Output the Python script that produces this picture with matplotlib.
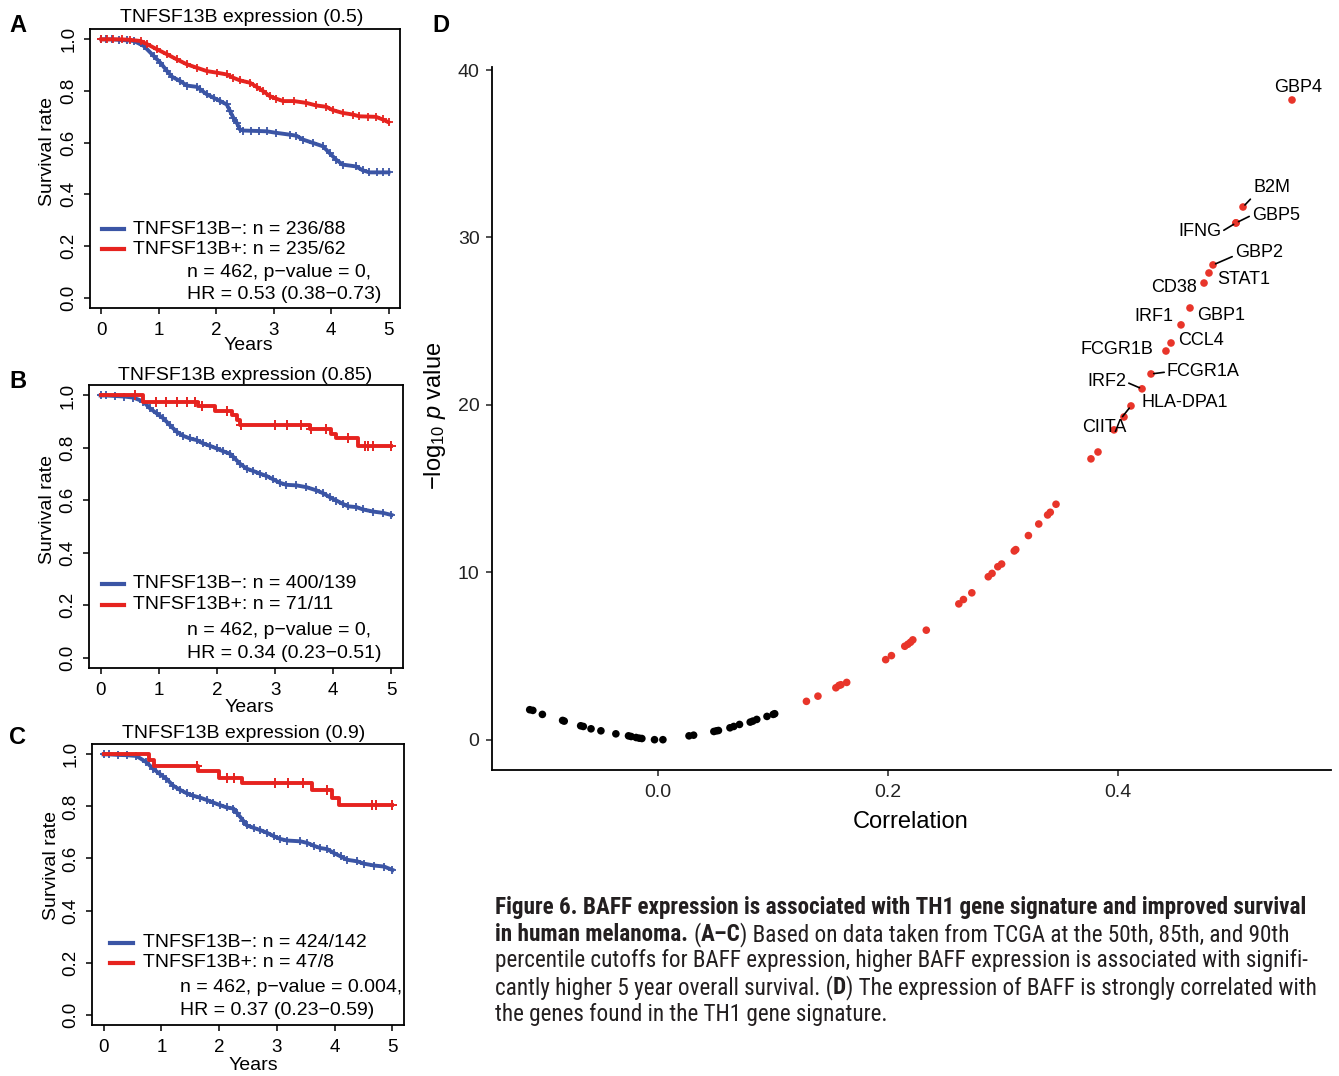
import numpy as np
import matplotlib
matplotlib.use("Agg")
import matplotlib.pyplot as plt
from matplotlib import font_manager
from matplotlib.font_manager import FontProperties
from matplotlib.transforms import IdentityTransform

# ---------------- data: Kaplan-Meier panels ----------------
km_titles = ["TNFSF13B expression (0.5)", "TNFSF13B expression (0.85)", "TNFSF13B expression (0.9)"]
km_leg_neg = ["TNFSF13B\u2212: n = 236/88", "TNFSF13B\u2212: n = 400/139", "TNFSF13B\u2212: n = 424/142"]
km_leg_pos = ["TNFSF13B+: n = 235/62", "TNFSF13B+: n = 71/11", "TNFSF13B+: n = 47/8"]
km_stats1 = ["n = 462, p\u2212value = 0,", "n = 462, p\u2212value = 0,", "n = 462, p\u2212value = 0.004,"]
km_stats2 = ["HR = 0.53 (0.38\u22120.73)", "HR = 0.34 (0.23\u22120.51)", "HR = 0.37 (0.23\u22120.59)"]
x_ticks = [0, 1, 2, 3, 4, 5]
y_ticks = [0.0, 0.2, 0.4, 0.6, 0.8, 1.0]
y_ticklabels = ["0.0", "0.2", "0.4", "0.6", "0.8", "1.0"]

a_neg_t = [0, 0.08, 0.18, 0.3, 0.45, 0.566, 0.739, 0.912, 1.028, 1.143, 1.23, 1.374, 1.49, 1.663, 1.721,
           1.836, 1.952, 2.067, 2.182, 2.24, 2.298, 2.356, 2.413, 2.471, 2.6, 2.75, 2.875, 3.048, 3.279,
           3.395, 3.51, 3.684, 3.857, 3.972, 4.088, 4.203, 4.434, 4.55, 4.665, 4.8, 4.9, 5.0]
a_neg_s = [1, 1, 1, 0.998, 0.996, 0.9935, 0.974, 0.935, 0.909, 0.877, 0.855, 0.838, 0.821, 0.816, 0.806,
           0.787, 0.774, 0.761, 0.748, 0.722, 0.696, 0.677, 0.651, 0.647, 0.646, 0.645, 0.644, 0.638, 0.631,
           0.627, 0.612, 0.599, 0.586, 0.560, 0.534, 0.515, 0.508, 0.493, 0.485, 0.485, 0.485, 0.485]
a_pos_t = [0, 0.1, 0.2, 0.35, 0.5, 0.681, 0.797, 0.97, 1.143, 1.316, 1.49, 1.663, 1.836, 2.009, 2.182,
           2.298, 2.413, 2.587, 2.702, 2.818, 2.933, 3.048, 3.164, 3.35, 3.568, 3.741, 3.915, 4.03, 4.203,
           4.376, 4.492, 4.65, 4.781, 4.896, 5.0]
a_pos_s = [1, 1, 1, 1, 0.998, 0.9935, 0.981, 0.961, 0.942, 0.922, 0.903, 0.89, 0.877, 0.871, 0.864,
           0.851, 0.841, 0.832, 0.816, 0.799, 0.78, 0.77, 0.761, 0.761, 0.754, 0.744, 0.739, 0.726, 0.715,
           0.709, 0.702, 0.701, 0.70, 0.69, 0.679]

b_neg_t = [0, 0.1, 0.25, 0.4, 0.561, 0.733, 0.848, 0.962, 1.077, 1.191, 1.306, 1.42, 1.535, 1.649, 1.764,
           1.879, 1.993, 2.108, 2.222, 2.28, 2.394, 2.509, 2.623, 2.738, 2.852, 2.967, 3.081, 3.196, 3.368,
           3.54, 3.711, 3.826, 3.94, 4.055, 4.17, 4.255, 4.399, 4.513, 4.685, 4.857, 5.0]
b_neg_s = [1, 1, 0.998, 0.996, 0.992, 0.977, 0.951, 0.932, 0.913, 0.887, 0.862, 0.846, 0.836, 0.83, 0.817,
           0.808, 0.798, 0.787, 0.778, 0.766, 0.74, 0.721, 0.712, 0.702, 0.693, 0.68, 0.667, 0.659, 0.657,
           0.65, 0.638, 0.627, 0.612, 0.599, 0.586, 0.577, 0.574, 0.565, 0.557, 0.552, 0.544]
b_pos_t = [0, 0.733, 1.678, 1.964, 2.251, 2.348, 2.394, 3.597, 3.969, 4.055, 4.427, 5.0]
b_pos_s = [1.0, 0.974, 0.958, 0.941, 0.926, 0.906, 0.887, 0.871, 0.852, 0.836, 0.807, 0.807]
b_pos_cens = [0.59, 0.96, 1.13, 1.31, 1.48, 1.62, 1.74, 2.17, 2.42, 3.0, 3.2, 3.45, 3.62, 3.88, 4.26,
              4.54, 4.6, 4.69, 5.0]

c_neg_t = [0, 0.1, 0.25, 0.4, 0.568, 0.742, 0.857, 0.973, 1.089, 1.205, 1.321, 1.437, 1.553, 1.669, 1.784,
           1.9, 2.016, 2.132, 2.248, 2.306, 2.422, 2.48, 2.596, 2.711, 2.827, 2.943, 3.059, 3.175, 3.407,
           3.523, 3.638, 3.754, 3.87, 3.986, 4.102, 4.218, 4.392, 4.508, 4.681, 4.855, 5.0]
c_neg_s = [1, 1, 0.998, 0.997, 0.994, 0.97, 0.945, 0.925, 0.906, 0.88, 0.864, 0.851, 0.841, 0.834, 0.825,
           0.815, 0.805, 0.796, 0.792, 0.776, 0.744, 0.727, 0.718, 0.709, 0.699, 0.686, 0.675, 0.669, 0.666,
           0.66, 0.649, 0.64, 0.636, 0.621, 0.608, 0.595, 0.589, 0.58, 0.573, 0.569, 0.556]
c_pos_t = [0, 0.79, 0.875, 1.64, 1.99, 2.39, 3.61, 3.96, 4.07, 5.0]
c_pos_s = [1.0, 0.977, 0.957, 0.935, 0.908, 0.890, 0.864, 0.832, 0.806, 0.806]
c_pos_cens = [1.61, 2.13, 2.25, 2.97, 3.20, 3.46, 3.87, 4.65, 4.71, 5.0]

# ---------------- data: correlation panel ----------------
ns_corr = [-0.1115, -0.1088, -0.1005, -0.0829, -0.0815, -0.0672, -0.0649, -0.0582, -0.0496, -0.0366,
           -0.0256, -0.0233, -0.0190, -0.0163, -0.0140, -0.0030, 0.0043, 0.0270, 0.0310, 0.0486,
           0.0509, 0.0526, 0.0626, 0.0659, 0.0709, 0.0802, 0.0825, 0.0859, 0.0948, 0.1002, 0.1015]
ns_logp = [1.80, 1.76, 1.52, 1.16, 1.12, 0.84, 0.80, 0.66, 0.54, 0.36,
           0.24, 0.20, 0.14, 0.10, 0.08, 0.01, 0.01, 0.24, 0.28, 0.50,
           0.54, 0.56, 0.72, 0.80, 0.92, 1.06, 1.12, 1.22, 1.40, 1.52, 1.56]
sig_corr = [0.1291, 0.1391, 0.1547, 0.1574, 0.1591, 0.1641, 0.1980, 0.2030, 0.2146, 0.2173,
            0.2196, 0.2216, 0.2333, 0.2616, 0.2656, 0.2729, 0.2872, 0.2905, 0.2955, 0.2988,
            0.3098, 0.3111, 0.3221, 0.3311, 0.3388, 0.3411, 0.3461, 0.3765, 0.3826, 0.3965]
sig_logp = [2.30, 2.61, 3.11, 3.25, 3.29, 3.43, 4.79, 5.03, 5.59, 5.71,
            5.83, 5.97, 6.55, 8.12, 8.38, 8.78, 9.74, 9.94, 10.34, 10.50,
            11.28, 11.36, 12.20, 12.89, 13.43, 13.59, 14.07, 16.78, 17.19, 18.51]
genes = ["CIITA", "HLA-DPA1", "IRF2", "FCGR1A", "FCGR1B", "CCL4", "IRF1", "GBP1", "CD38", "STAT1",
         "GBP2", "IFNG", "GBP5", "B2M", "GBP4"]
gene_corr = [0.4113, 0.4052, 0.4209, 0.4287, 0.4417, 0.4461, 0.4548, 0.4626, 0.4748, 0.4791,
             0.4826, 0.5026, 0.5026, 0.5087, 0.5513]
gene_logp = [19.94, 19.28, 20.96, 21.85, 23.22, 23.70, 24.78, 25.79, 27.28, 27.88,
             28.36, 30.87, 30.87, 31.82, 38.21]
d_xticks = [0.0, 0.2, 0.4]
d_yticks = [0, 10, 20, 30, 40]

caption_lines = [
    [("Figure 6. BAFF expression is associated with TH1 gene signature and improved survival", True)],
    [("in human melanoma.", True), (" (", False), ("A\u2013C", True),
     (") Based on data taken from TCGA at the 50th, 85th, and 90th", False)],
    [("percentile cutoffs for BAFF expression, higher BAFF expression is associated with signifi-", False)],
    [("cantly higher 5 year overall survival. (", False), ("D", True),
     (") The expression of BAFF is strongly correlated with", False)],
    [("the genes found in the TH1 gene signature.", False)],
]

# ---------------- layout / style ----------------
W, H = 1339, 1076
plt.rcParams['font.family'] = ['Liberation Sans', 'DejaVu Sans']
plt.rcParams['mathtext.fontset'] = 'custom'
plt.rcParams['mathtext.rm'] = 'Liberation Sans'
plt.rcParams['mathtext.it'] = 'Liberation Sans:italic'

BLUE = '#3b55a5'
RED = '#e6231f'
DRED = '#e8352a'


def fx(px):
    return px / W


def fy(py):
    return 1 - py / H


def rect(l, t, r, b):
    return [l / W, 1 - b / H, (r - l) / W, (b - t) / H]


fig = plt.figure(figsize=(W / 100, H / 100), dpi=100)

km_layout = [
    dict(box=(90, 29, 400, 308), letter=(18, 25), title=(242, 17), years=(248, 345), ylab=(48, 151),
         lx=(0.039, 0.11), ly=(0.283, 0.211), tx=0.139, sx=0.313, sy=(0.129, 0.047)),
    dict(box=(89, 385, 403, 668), letter=(18, 381), title=(245, 375), years=(249, 708), ylab=(48, 510),
         lx=(0.041, 0.111), ly=(0.297, 0.223), tx=0.140, sx=0.312, sy=(0.134, 0.053)),
    dict(box=(92, 744, 404, 1025), letter=(18, 737), title=(244, 733), years=(253, 1065), ylab=(52, 866),
         lx=(0.058, 0.131), ly=(0.292, 0.221), tx=0.163, sx=0.282, sy=(0.135, 0.05)),
]
km_neg = [(a_neg_t, a_neg_s), (b_neg_t, b_neg_s), (c_neg_t, c_neg_s)]
km_pos = [(a_pos_t, a_pos_s, None), (b_pos_t, b_pos_s, b_pos_cens), (c_pos_t, c_pos_s, c_pos_cens)]
letters = ["A", "B", "C"]
KM_FS = 14

for i in range(3):
    L = km_layout[i]
    ax = fig.add_axes(rect(*L['box']))
    ax.set_xlim(-0.2, 5.2)
    ax.set_ylim(-0.04, 1.04)
    nt, ns = km_neg[i]
    ax.plot(nt, ns, color=BLUE, lw=2.8, marker='+', ms=6, mew=1.3)
    pt, ps, pc = km_pos[i]
    if pc is None:
        ax.plot(pt, ps, color=RED, lw=2.8, marker='+', ms=6, mew=1.3)
    else:
        ax.step(pt, ps, where='post', color=RED, lw=2.8)
        pt_arr = np.asarray(pt)
        ps_arr = np.asarray(ps)
        idx = np.searchsorted(pt_arr, np.asarray(pc), side='right') - 1
        ax.plot(pc, ps_arr[idx], linestyle='none', marker='+', ms=7, mew=1.4, color=RED)
    for sp in ax.spines.values():
        sp.set_linewidth(1.3)
    ax.set_xticks(x_ticks)
    ax.set_xticklabels([str(v) for v in x_ticks])
    ax.set_yticks(y_ticks)
    ax.set_yticklabels(y_ticklabels, rotation=90, va='center')
    ax.tick_params(direction='out', length=4, width=1.1, labelsize=13.5)
    ax.tick_params(axis='x', pad=6)
    ax.tick_params(axis='y', pad=5)
    # legend
    ax.plot(L['lx'], [L['ly'][0]] * 2, color=BLUE, lw=3, transform=ax.transAxes)
    ax.plot(L['lx'], [L['ly'][1]] * 2, color=RED, lw=3, transform=ax.transAxes)
    ax.text(L['tx'], L['ly'][0], km_leg_neg[i], transform=ax.transAxes, va='center', ha='left', fontsize=KM_FS)
    ax.text(L['tx'], L['ly'][1], km_leg_pos[i], transform=ax.transAxes, va='center', ha='left', fontsize=KM_FS)
    ax.text(L['sx'], L['sy'][0], km_stats1[i], transform=ax.transAxes, va='center', ha='left', fontsize=KM_FS)
    ax.text(L['sx'], L['sy'][1], km_stats2[i], transform=ax.transAxes, va='center', ha='left', fontsize=KM_FS)
    # titles / labels
    fig.text(fx(L['title'][0]), fy(L['title'][1]), km_titles[i], ha='center', va='center', fontsize=KM_FS)
    fig.text(fx(L['years'][0]), fy(L['years'][1]), "Years", ha='center', va='center', fontsize=KM_FS)
    fig.text(fx(L['ylab'][0]), fy(L['ylab'][1]), "Survival rate", ha='center', va='center',
             rotation=90, fontsize=KM_FS)
    fig.text(fx(L['letter'][0]), fy(L['letter'][1]), letters[i], ha='center', va='center',
             fontsize=17, fontweight='bold')

# ---------------- panel D ----------------
axd = fig.add_axes(rect(492, 67, 1331, 770))
axd.set_xlim(-0.1443, 0.5852)
axd.set_ylim(-1.8, 40.18)
axd.scatter(ns_corr, ns_logp, s=30, color='black', edgecolors='none', zorder=3)
axd.scatter(sig_corr, sig_logp, s=30, color=DRED, edgecolors='none', zorder=3)
axd.scatter(gene_corr, gene_logp, s=30, color=DRED, edgecolors='none', zorder=3)
for side in ['top', 'right']:
    axd.spines[side].set_visible(False)
for side in ['left', 'bottom']:
    axd.spines[side].set_linewidth(1.3)
axd.set_xticks(d_xticks)
axd.set_xticklabels(["%.1f" % v for v in d_xticks])
axd.set_yticks(d_yticks)
axd.set_yticklabels([str(v) for v in d_yticks])
axd.tick_params(direction='out', length=4, width=1.1, labelsize=14, colors='#222222')
axd.tick_params(axis='x', pad=6)
axd.tick_params(axis='y', pad=5)

label_layout = {
    "GBP4": (0.5565, 38.93, 'center', None),
    "B2M": (0.5174, 32.96, 'left', (0.0, 0.0)),
    "GBP5": (0.5165, 31.34, 'left', (0.0, 0.5)),
    "IFNG": (0.4896, 30.33, 'right', (1.0, 0.5)),
    "GBP2": (0.5017, 29.13, 'left', (0.0, 0.3)),
    "STAT1": (0.4861, 27.52, 'left', None),
    "CD38": (0.4687, 26.99, 'right', None),
    "IRF1": (0.4478, 25.31, 'right', None),
    "GBP1": (0.4687, 25.37, 'left', None),
    "CCL4": (0.4522, 23.82, 'left', None),
    "FCGR1B": (0.4304, 23.34, 'right', None),
    "FCGR1A": (0.4426, 21.97, 'left', (0.0, 0.5)),
    "IRF2": (0.4070, 21.37, 'right', (1.0, 0.5)),
    "HLA-DPA1": (0.4200, 20.12, 'left', None),
    "CIITA": (0.4078, 18.63, 'right', (0.85, 1.0)),
}
for g, gx, gy in zip(genes, gene_corr, gene_logp):
    tx, ty, ha, rp = label_layout[g]
    if rp is None:
        axd.text(tx, ty, g, ha=ha, va='center', fontsize=13, zorder=4)
    else:
        axd.annotate(g, xy=(gx, gy), xytext=(tx, ty), ha=ha, va='center', fontsize=13, zorder=4,
                     arrowprops=dict(arrowstyle='-', color='black', lw=1.2, relpos=rp,
                                     shrinkA=0, shrinkB=2))

fig.text(fx(911), fy(822), "Correlation", ha='center', va='center', fontsize=17)
fig.text(fx(435), fy(416), r'$-\mathrm{log}_{10}\ \mathit{p}$ value', ha='center', va='center',
         rotation=90, fontsize=17)
fig.text(fx(441), fy(25), "D", ha='center', va='center', fontsize=17, fontweight='bold')

# ---------------- caption ----------------
def pick_caption_fonts():
    """Prefer an installed condensed sans face (regular + bold); fall back to Liberation Sans."""
    order = ['Liberation Sans Narrow', 'Roboto Condensed', 'Open Sans Condensed', 'Noto Sans',
             'Open Sans', 'Roboto', 'DejaVu Sans', 'Noto Sans Display']
    cond_names = ('condensed', 'semi-condensed', 'extra-condensed')
    found = {}
    for f in font_manager.fontManager.ttflist:
        st = str(f.stretch).lower()
        is_cond = ('Narrow' in f.name) or ('Condensed' in f.name) or (st in cond_names)
        if not is_cond or f.style != 'normal':
            continue
        try:
            w = int(f.weight)
        except (TypeError, ValueError):
            w = {'normal': 400, 'regular': 400, 'book': 400, 'medium': 500,
                 'semibold': 600, 'demibold': 600, 'bold': 700}.get(str(f.weight).lower(), 400)
        found.setdefault(f.name, []).append((st, w, f.fname))
    for name in order + sorted(found):
        if name not in found:
            continue
        entries = found[name]
        stretches = sorted(set(e[0] for e in entries), key=lambda s: 0 if s == 'semi-condensed' else (1 if s == 'condensed' else 2))
        for st in stretches:
            ws = [e for e in entries if e[0] == st]
            reg = min(ws, key=lambda e: abs(e[1] - 400))
            bold = min(ws, key=lambda e: abs(e[1] - 700))
            if bold[1] >= 600 and reg[1] <= 450:
                return FontProperties(fname=reg[2]), FontProperties(fname=bold[2])
    return FontProperties(family='Liberation Sans'), FontProperties(family='Liberation Sans', weight='bold')


cap_reg, cap_bold = pick_caption_fonts()
cap_color = '#231f20'
renderer = fig.canvas.get_renderer()
ident = IdentityTransform()


def cap_props(bold, size):
    fp = (cap_bold if bold else cap_reg).copy()
    fp.set_size(size)
    if fp.get_file() is None and bold:
        fp.set_weight('bold')
    return fp


def text_w(s, size, bold):
    t = fig.text(0, 0, s, fontproperties=cap_props(bold, size), transform=ident)
    w = t.get_window_extent(renderer).width
    t.remove()
    return w


w1 = text_w(caption_lines[0][0][0], 12, True)
cap_size = 12 * 812.0 / w1
sp_w = {b: text_w('x x', cap_size, b) - text_w('xx', cap_size, b) for b in (True, False)}
baselines = [914, 941, 967, 994, 1021]
for line, base in zip(caption_lines, baselines):
    x = 495.0
    for s, bold in line:
        lead = len(s) - len(s.lstrip(' '))
        trail = len(s) - len(s.rstrip(' '))
        core = s.strip(' ')
        x += lead * sp_w[bold]
        t = fig.text(x, H - base, core, fontproperties=cap_props(bold, cap_size),
                     color=cap_color, transform=ident, va='baseline', ha='left')
        x += t.get_window_extent(renderer).width + trail * sp_w[bold]

fig.savefig("out.png", dpi=100)
